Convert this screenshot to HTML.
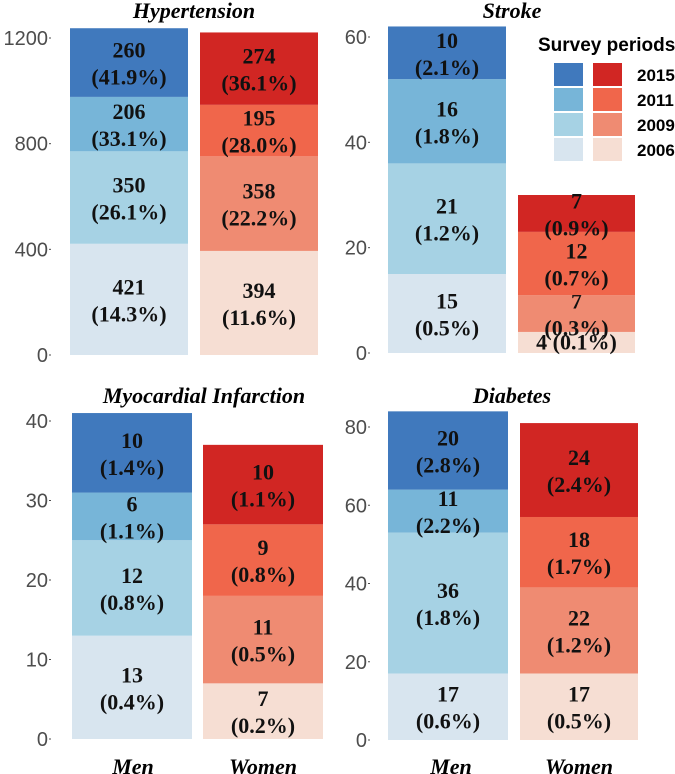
<!DOCTYPE html>
<html><head><meta charset="utf-8">
<style>
html,body{margin:0;padding:0;background:#fff;}
svg{display:block;}
.ser{font-family:"Liberation Serif",serif;font-weight:bold;}
.tick{font-family:"Liberation Sans",sans-serif;font-size:20px;fill:#4d4d4d;}
</style></head>
<body>
<svg id="chart" width="675" height="774" viewBox="0 0 675 774" xmlns="http://www.w3.org/2000/svg">
<g id="legend">
<text x="538" y="51" font-family="Liberation Sans, sans-serif" font-weight="bold" font-size="19" fill="#000">Survey periods</text>
</g>
</svg>
<script>
const periods = ["2015","2011","2009","2006"];
const blues = ["#4079BD","#77B5D8","#A6D2E4","#D8E5EF"];
const reds = ["#D12623","#F0664B","#EF8B72","#F6DED3"];
// values bottom-up: 2006, 2009, 2011, 2015
const htnMen = [421,350,206,260];
const htnMenPct = ["14.3%","26.1%","33.1%","41.9%"];
const htnWomen = [394,358,195,274];
const htnWomenPct = ["11.6%","22.2%","28.0%","36.1%"];
const strokeMen = [15,21,16,10];
const strokeMenPct = ["0.5%","1.2%","1.8%","2.1%"];
const strokeWomen = [4,7,12,7];
const strokeWomenPct = ["0.1%","0.3%","0.7%","0.9%"];
const miMen = [13,12,6,10];
const miMenPct = ["0.4%","0.8%","1.1%","1.4%"];
const miWomen = [7,11,9,10];
const miWomenPct = ["0.2%","0.5%","0.8%","1.1%"];
const dmMen = [17,36,11,20];
const dmMenPct = ["0.6%","1.8%","2.2%","2.8%"];
const dmWomen = [17,22,18,24];
const dmWomenPct = ["0.5%","1.2%","1.7%","2.4%"];
const htnTicks = [0,400,800,1200];
const strokeTicks = [0,20,40,60];
const miTicks = [0,10,20,30,40];
const dmTicks = [0,20,40,60,80];

const svg = document.getElementById('chart');
const NS = "http://www.w3.org/2000/svg";
function mk(tag, attrs){const e=document.createElementNS(NS,tag);for(const k in attrs)e.setAttribute(k,attrs[k]);return e;}

const panels = [
 {name:"hypertension",title:"Hypertension",titleX:194,titleY:11,y0:355,yTop:38,max:1200,ticks:htnTicks,axisX:48,men:[70,188],women:[200,318],mv:htnMen,mp:htnMenPct,wv:htnWomen,wp:htnWomenPct},
 {name:"stroke",title:"Stroke",titleX:512,titleY:11,y0:353,yTop:37,max:60,ticks:strokeTicks,axisX:367,men:[388,506],women:[518,635],mv:strokeMen,mp:strokeMenPct,wv:strokeWomen,wp:strokeWomenPct},
 {name:"myocardial-infarction",title:"Myocardial Infarction",titleX:204,titleY:396,y0:739,yTop:421,max:40,ticks:miTicks,axisX:48,men:[72,192],women:[203,323],mv:miMen,mp:miMenPct,wv:miWomen,wp:miWomenPct},
 {name:"diabetes",title:"Diabetes",titleX:512,titleY:396,y0:740,yTop:427,max:80,ticks:dmTicks,axisX:367,men:[388,508],women:[520,638],mv:dmMen,mp:dmMenPct,wv:dmWomen,wp:dmWomenPct}
];

panels.forEach(p=>{
  const g = mk('g',{});
  
  
  svg.appendChild(g);
  const y = v => p.y0 - v*(p.y0-p.yTop)/p.max;
  const t = mk('text',{x:p.titleX,y:p.titleY+7,'text-anchor':'middle','font-size':22,'font-style':'italic',class:'ser'});
  
  
  t.textContent = p.title; g.appendChild(t);
  p.ticks.forEach(tv=>{
    const tl = mk('text',{x:p.axisX,y:y(tv)+7,'text-anchor':'end',class:'tick'});
    
    
    tl.textContent = tv; g.appendChild(tl);
    const tm = mk('line',{x1:p.axisX+1,x2:p.axisX+3,y1:y(tv),y2:y(tv),stroke:'#4d4d4d','stroke-width':1});
    
    
    g.appendChild(tm);
  });
  [['men',p.men,p.mv,p.mp,blues],['women',p.women,p.wv,p.wp,reds]].forEach(([sex,xr,vals,pcts,cols])=>{
    let cum=0;
    vals.forEach((v,i)=>{
      const yb=y(cum), yt=y(cum+v); cum+=v;
      const r = mk('rect',{x:xr[0],y:yt,width:xr[1]-xr[0],height:yb-yt,fill:cols[3-i]});
      
      
      g.appendChild(r);
      const cx=(xr[0]+xr[1])/2, cy=(yb+yt)/2;
      const tx = mk('text',{x:cx,'text-anchor':'middle','font-size':22,class:'ser',fill:'#111'});
      
      
      if (yb-yt < 25) {
        tx.setAttribute('y', cy+7);
        tx.textContent = v+' ('+pcts[i]+')';
      } else {
        const s1 = mk('tspan',{x:cx,y:cy-5}); s1.textContent=v;
        const s2 = mk('tspan',{x:cx,y:cy+22}); s2.textContent='('+pcts[i]+')';
        tx.appendChild(s1); tx.appendChild(s2);
      }
      g.appendChild(tx);
    });
  });
});

// x-axis labels
[[133,'Men'],[263,'Women'],[451,'Men'],[579,'Women']].forEach(([x,l])=>{
  const t = mk('text',{x:x,y:774,'text-anchor':'middle','font-size':22,'font-style':'italic',class:'ser'});
  
  
  t.textContent=l; svg.appendChild(t);
});

// legend
const lg = document.getElementById('legend');
periods.forEach((per,i)=>{
  const top = 63 + i*25;
  const b = mk('rect',{x:554,y:top,width:29,height:23,fill:blues[i]});
  
  
  lg.appendChild(b);
  const r = mk('rect',{x:593,y:top,width:29,height:23,fill:reds[i]});
  
  
  lg.appendChild(r);
  const t = mk('text',{x:637,y:top+18,'font-family':'Liberation Sans, sans-serif','font-weight':'bold','font-size':17,fill:'#000'});
  
  
  t.textContent=per; lg.appendChild(t);
});
</script>
</body></html>
